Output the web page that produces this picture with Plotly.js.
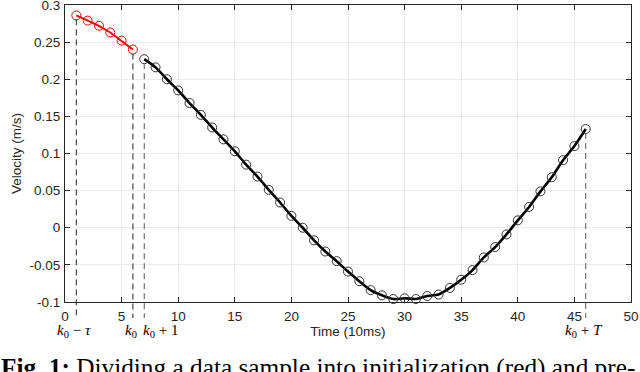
<!DOCTYPE html>
<html>
<head>
<meta charset="utf-8">
<script src="https://cdn.plot.ly/plotly-3.0.1.min.js"></script>
<style>
html,body{margin:0;padding:0;background:#fff;}
#chart{width:640px;height:372px;}
</style>
</head>
<body>
<div id="chart"></div>
<script>
// Initialization window (red)
const initX = [1, 2, 3, 4, 5, 6];
const initY = [0.286, 0.279, 0.272, 0.263, 0.252, 0.240];

// Prediction window (black)
const predX = [7, 8, 9, 10, 11, 12, 13, 14, 15, 16, 17, 18, 19, 20, 21, 22, 23, 24, 25, 26,
               27, 28, 29, 30, 31, 32, 33, 34, 35, 36, 37, 38, 39, 40, 41, 42, 43, 44, 45, 46];
const predY = [0.227, 0.216, 0.200, 0.185, 0.168, 0.152, 0.135, 0.119, 0.103, 0.085,
               0.069, 0.051, 0.034, 0.016, 0.000, -0.017, -0.032, -0.045, -0.059, -0.072,
               -0.084, -0.091, -0.096, -0.095, -0.096, -0.092, -0.090, -0.081, -0.070, -0.057,
               -0.040, -0.026, -0.009, 0.010, 0.028, 0.049, 0.068, 0.091, 0.110, 0.133];

// Tick labels
const xTickVals = [0, 5, 10, 15, 20, 25, 30, 35, 40, 45, 50];
const yTickVals = [-0.1, -0.05, 0, 0.05, 0.1, 0.15, 0.2, 0.25, 0.3];
const yTickText = ['-0.1', '-0.05', '0', '0.05', '0.1', '0.15', '0.2', '0.25', '0.3'];

// Marker annotations (dashed verticals)
const markLabels = ['<i>k</i><sub>0</sub> − <i>τ</i>', '<i>k</i><sub>0</sub>', '<i>k</i><sub>0</sub> + 1', '<i>k</i><sub>0</sub> + <i>T</i>'];
const markX = [initX[0], initX[initX.length - 1], predX[0], predX[predX.length - 1]];
const markY = [initY[0], initY[initY.length - 1], predY[0], predY[predY.length - 1]];
const markColor = ['#222', '#222', '#555', '#555'];
const markAnchor = ['center', 'center', 'left', 'center'];

const xRange = [0, 50];
const yRange = [-0.1, 0.3];
const plotH = 297; // px height of plot area

const toPaper = v => (v - yRange[0]) / (yRange[1] - yRange[0]);

const shapes = markX.map((x, i) => ({
  type: 'line', xref: 'x', yref: 'paper',
  x0: x, x1: x,
  y0: toPaper(markY[i]) - 4 / plotH,
  y1: -16 / plotH,
  line: {color: markColor[i], width: 1, dash: '6px,4px'}
}));

const annotations = markX.map((x, i) => ({
  xref: 'x', yref: 'paper', x: x, y: 0,
  xanchor: markAnchor[i], yanchor: 'middle',
  yshift: -29, xshift: markAnchor[i] === 'left' ? -3 : -2,
  showarrow: false, text: markLabels[i],
  font: {family: 'Liberation Serif, Times New Roman, serif', size: 15, color: '#000'}
}));

annotations.push({
  xref: 'paper', yref: 'paper', x: -66 / 566, y: 0,
  xanchor: 'left', yanchor: 'top', yshift: -49,
  showarrow: false,
  text: '<b>Fig. 1:</b> Dividing a data sample into initialization (red) and pre-',
  font: {family: 'Liberation Serif, Times New Roman, serif', size: 25.3, color: '#000'}
});

const traces = [
  {
    x: predX, y: predY, type: 'scatter', mode: 'lines',
    line: {color: '#000', width: 2.6, shape: 'spline', smoothing: 0.8},
    hoverinfo: 'skip'
  },
  {
    x: predX, y: predY, type: 'scatter', mode: 'markers',
    marker: {symbol: 'circle-open', size: 9, color: '#333', line: {width: 1, color: '#333'}},
    cliponaxis: false
  },
  {
    x: initX, y: initY, type: 'scatter', mode: 'lines+markers',
    line: {color: '#ff0000', width: 2},
    marker: {symbol: 'circle-open', size: 9, color: '#ff0000', line: {width: 1, color: '#ff0000'}},
    cliponaxis: false
  }
];

const axisFont = {family: 'Liberation Sans, Arial, sans-serif', size: 13.5, color: '#262626'};

const axisCommon = {
  showline: true, linecolor: '#262626', linewidth: 1,
  mirror: 'ticks', ticks: 'inside', ticklen: 5, tickwidth: 1, tickcolor: '#262626',
  showgrid: true, gridcolor: '#ebebeb', gridwidth: 1, zeroline: false,
  ticklabeloverflow: 'allow',
  tickfont: axisFont
};

const layout = {
  width: 640, height: 372,
  margin: {l: 65, r: 9, t: 5, b: 70, pad: 0},
  paper_bgcolor: '#fff', plot_bgcolor: '#fff',
  showlegend: false,
  xaxis: Object.assign({}, axisCommon, {
    range: xRange, tickvals: xTickVals, ticklabelstandoff: 2,
    title: {text: 'Time (10ms)', standoff: 3, font: axisFont}
  }),
  yaxis: Object.assign({}, axisCommon, {
    range: yRange, tickvals: yTickVals, ticktext: yTickText, ticklabelstandoff: 1,
    title: {text: 'Velocity (m/s)', standoff: 4, font: axisFont}
  }),
  shapes: shapes,
  annotations: annotations
};

Plotly.newPlot('chart', traces, layout, {displayModeBar: false, staticPlot: true});
</script>
</body>
</html>
